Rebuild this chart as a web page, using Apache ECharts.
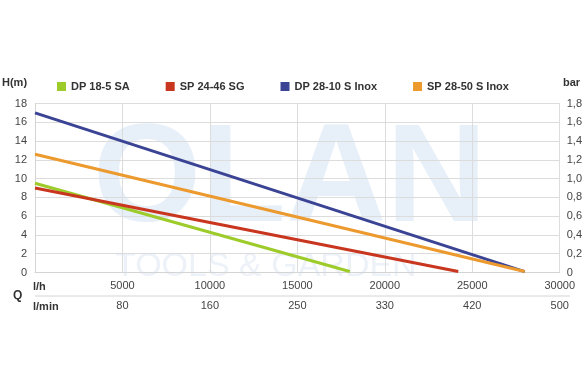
<!DOCTYPE html>
<html>
<head>
    <meta charset="utf-8"/>
    <title>Pump curves</title>
    <script src="https://cdn.jsdelivr.net/npm/echarts@6/dist/echarts.min.js"></script>
</head>
<body style="margin:0;background:#fff;">
<div id="main" style="width:585px;height:390px;"></div>
<script type="text/javascript">
    // series names and colours
    var names = ['DP 18-5 SA', 'SP 24-46 SG', 'DP 28-10 S Inox', 'SP 28-50 S Inox'];
    var colors = ['#9dcb2a', '#c9361f', '#3b4494', '#ec9a2e'];
    // flow (l/h) and head (m) points
    var flowDP18 = [0, 18000];
    var headDP18 = [9.5, 0.1];
    var flowSP24 = [0, 24200];
    var headSP24 = [9.0, 0.1];
    var flowDP28 = [0, 28000];
    var headDP28 = [17.0, 0.1];
    var flowSP28 = [0, 28000];
    var headSP28 = [12.6, 0.1];
    // second row of x labels (l/min)
    var lminLabels = ['', '80', '160', '250', '330', '420', '500'];

    function pts(xs, ys) {
        var out = [];
        for (var i = 0; i < xs.length; i++) out.push([xs[i], ys[i]]);
        return out;
    }
    var allData = [pts(flowDP18, headDP18), pts(flowSP24, headSP24), pts(flowDP28, headDP28), pts(flowSP28, headSP28)];

    var series = [];
    for (var i = 0; i < names.length; i++) {
        series.push({
            name: names[i],
            type: 'line',
            data: allData[i],
            symbol: 'none',
            lineStyle: {width: 3, color: colors[i]},
            itemStyle: {color: colors[i]},
            z: 3
        });
    }

    var myChart = echarts.init(document.getElementById('main'));
    var font = 'Liberation Sans, Arial, sans-serif';
    var option = {
        animation: false,
        textStyle: {fontFamily: font},
        grid: {left: 35, right: 25, top: 103.5, bottom: 117.5},
        legend: {
            data: names,
            left: 52,
            top: 76,
            icon: 'rect',
            itemWidth: 9,
            itemHeight: 9,
            itemGap: 36,
            textStyle: {fontSize: 11, fontWeight: 'bold', color: '#333', fontFamily: font}
        },
        graphic: [
            {type: 'text', x: 93, y: 113, z: 0, silent: true,
             style: {text: 'OLAN', font: 'bold 139px ' + font, fill: '#e7eff9'}},
            {type: 'text', x: 115, y: 250, z: 0, silent: true,
             style: {text: 'TOOLS & GARDEN', font: '34px ' + font, fill: '#edf2f9'}},
            {type: 'text', x: 2, y: 77, style: {text: 'H(m)', font: 'bold 11px ' + font, fill: '#333'}},
            {type: 'text', x: 563, y: 77, style: {text: 'bar', font: 'bold 11px ' + font, fill: '#333'}},
            {type: 'text', x: 33, y: 281, style: {text: 'l/h', font: 'bold 11px ' + font, fill: '#333'}},
            {type: 'text', x: 33, y: 301, style: {text: 'l/min', font: 'bold 11px ' + font, fill: '#333'}},
            {type: 'text', x: 13, y: 290, style: {text: 'Q', font: 'bold 12px ' + font, fill: '#333'}},
            {type: 'line', shape: {x1: 35, y1: 296, x2: 570, y2: 296}, style: {stroke: '#d4d4d4', lineWidth: 1}}
        ],
        xAxis: [
            {
                type: 'value', min: 0, max: 30000, interval: 5000,
                axisLine: {show: true, lineStyle: {color: '#d4d4d4'}},
                axisTick: {show: false},
                splitLine: {show: true, lineStyle: {color: '#dcdcdc'}},
                axisLabel: {
                    margin: 8, fontSize: 11, color: '#444',
                    formatter: function (v) { return v === 0 ? '' : String(v); }
                }
            },
            {
                type: 'value', min: 0, max: 30000, interval: 5000, position: 'bottom', offset: 20,
                axisLine: {show: false}, axisTick: {show: false}, splitLine: {show: false},
                axisLabel: {
                    margin: 8, fontSize: 11, color: '#444',
                    formatter: function (v) { return lminLabels[Math.round(v / 5000)]; }
                }
            }
        ],
        yAxis: [
            {
                type: 'value', min: 0, max: 18, interval: 2,
                axisLine: {show: true, lineStyle: {color: '#d4d4d4'}},
                axisTick: {show: false},
                splitLine: {show: true, lineStyle: {color: '#dcdcdc'}},
                axisLabel: {margin: 8, fontSize: 11, color: '#444'}
            },
            {
                type: 'value', min: 0, max: 1.8, interval: 0.2, position: 'right',
                axisLine: {show: true, lineStyle: {color: '#d4d4d4'}},
                axisTick: {show: false},
                splitLine: {show: false},
                axisLabel: {
                    margin: 7, fontSize: 11, color: '#444',
                    formatter: function (v) { return v === 0 ? '0' : v.toFixed(1).replace('.', ','); }
                }
            }
        ],
        series: series
    };
    myChart.setOption(option);
</script>
</body>
</html>
